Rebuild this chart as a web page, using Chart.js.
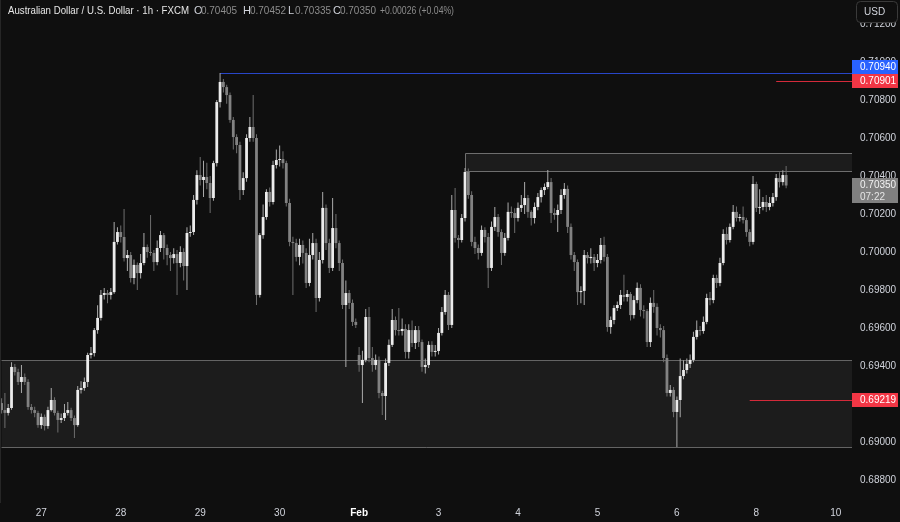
<!DOCTYPE html>
<html>
<head>
<meta charset="utf-8">
<title>Australian Dollar / U.S. Dollar - 1h - FXCM</title>
<script src="https://cdn.jsdelivr.net/npm/chart.js@4.4.1/dist/chart.umd.min.js"></script>
<style>
  html, body { margin: 0; padding: 0; background: #0f0f0f; }
  #wrap { width: 900px; height: 522px; }
</style>
</head>
<body>
<div id="wrap"><canvas id="chart" width="900" height="522"></canvas></div>
<script>
// hourly candles, index 0 = first bar on the left (Jan 26 afternoon)
const opens = [
  0.69205,0.69168,0.69153,0.69179,0.69395,0.69368,0.69316,0.69342,0.69316,0.69184,
  0.69168,0.69153,0.69089,0.69132,0.69084,0.69168,0.69221,0.69153,0.69116,0.69126,
  0.69153,0.69168,0.69126,0.69089,0.69274,0.69284,0.69316,0.69458,0.69468,0.69589,
  0.69653,0.69774,0.69784,0.69774,0.69789,0.70053,0.70105,0.70079,0.69968,0.69984,
  0.69863,0.69932,0.69889,0.69942,0.70026,0.70000,0.69995,0.69947,0.70021,0.70089,
  0.70021,0.69984,0.69968,0.69989,0.69942,0.70000,0.69926,0.70100,0.70105,0.70274,
  0.70405,0.70379,0.70395,0.70363,0.70284,0.70468,0.70789,0.70895,0.70868,0.70826,
  0.70695,0.70605,0.70563,0.70326,0.70389,0.70600,0.70658,0.70600,0.69774,0.70089,
  0.70184,0.70316,0.70263,0.70458,0.70484,0.70489,0.70468,0.70258,0.70053,0.70047,
  0.69974,0.70037,0.69995,0.69837,0.69984,0.70047,0.69758,0.69958,0.70232,0.70047,
  0.69916,0.70126,0.70047,0.69942,0.69721,0.69784,0.69732,0.69632,0.69458,0.69405,
  0.69432,0.69658,0.69442,0.69405,0.69432,0.69258,0.69242,0.69416,0.69511,0.69642,
  0.69589,0.69584,0.69595,0.69474,0.69589,0.69521,0.69589,0.69526,0.69395,0.69405,
  0.69511,0.69474,0.69479,0.69574,0.69684,0.69774,0.69616,0.70221,0.70074,0.70063,
  0.70179,0.70421,0.70300,0.70053,0.70021,0.69995,0.70116,0.70079,0.69916,0.70132,
  0.70184,0.70105,0.69995,0.70074,0.70211,0.70205,0.70179,0.70232,0.70247,0.70284,
  0.70211,0.70179,0.70237,0.70289,0.70326,0.70342,0.70368,0.70205,0.70195,0.70221,
  0.70300,0.70332,0.70132,0.69984,0.69947,0.69789,0.69795,0.69984,0.69968,0.69974,
  0.69942,0.69958,0.70037,0.69974,0.69605,0.69642,0.69705,0.69721,0.69774,0.69763,
  0.69779,0.69668,0.69747,0.69811,0.69695,0.69689,0.69526,0.69732,0.69711,0.69600,
  0.69589,0.69442,0.69258,0.69274,0.69158,0.69221,0.69347,0.69379,0.69411,0.69432,
  0.69553,0.69589,0.69584,0.69632,0.69758,0.69747,0.69863,0.69837,0.69942,0.70095,
  0.70063,0.70132,0.70211,0.70179,0.70184,0.70168,0.70105,0.70053,0.70358,0.70232,
  0.70237,0.70263,0.70237,0.70258,0.70289,0.70389,0.70368,0.70405
];
const highs = [
  0.69230,0.69258,0.69200,0.69420,0.69410,0.69385,0.69405,0.69360,0.69330,0.69200,
  0.69185,0.69165,0.69150,0.69145,0.69185,0.69284,0.69235,0.69165,0.69150,0.69200,
  0.69210,0.69180,0.69140,0.69295,0.69320,0.69340,0.69470,0.69500,0.69600,0.69720,
  0.69800,0.69810,0.69800,0.69810,0.70158,0.70130,0.70140,0.70226,0.70010,0.70000,
  0.69960,0.69945,0.69990,0.70100,0.70040,0.70195,0.70010,0.70060,0.70110,0.70100,
  0.70040,0.70000,0.70020,0.70010,0.70030,0.70020,0.70130,0.70140,0.70300,0.70430,
  0.70500,0.70480,0.70470,0.70400,0.70480,0.70800,0.70942,0.70910,0.70880,0.70840,
  0.70710,0.70620,0.70580,0.70420,0.70620,0.70710,0.70826,0.70620,0.70100,0.70250,
  0.70330,0.70340,0.70480,0.70540,0.70560,0.70530,0.70480,0.70280,0.70080,0.70070,
  0.70070,0.70060,0.70020,0.70070,0.70100,0.70070,0.70000,0.70316,0.70250,0.70070,
  0.70284,0.70200,0.70060,0.69960,0.69850,0.69800,0.69750,0.69650,0.69500,0.69480,
  0.69700,0.69710,0.69500,0.69460,0.69450,0.69270,0.69440,0.69540,0.69700,0.69660,
  0.69705,0.69650,0.69620,0.69620,0.69640,0.69610,0.69610,0.69540,0.69440,0.69530,
  0.69530,0.69510,0.69600,0.69710,0.69800,0.69790,0.70300,0.70337,0.70090,0.70200,
  0.70442,0.70440,0.70320,0.70080,0.70040,0.70140,0.70130,0.70100,0.70160,0.70237,
  0.70200,0.70120,0.70100,0.70260,0.70240,0.70230,0.70260,0.70300,0.70368,0.70300,
  0.70220,0.70260,0.70310,0.70340,0.70360,0.70432,0.70390,0.70230,0.70250,0.70330,
  0.70363,0.70350,0.70150,0.70000,0.69960,0.69820,0.70010,0.70000,0.70020,0.69990,
  0.69990,0.70074,0.70080,0.69990,0.69660,0.69720,0.69740,0.69800,0.69880,0.69800,
  0.69790,0.69770,0.69840,0.69830,0.69720,0.69700,0.69760,0.69800,0.69730,0.69620,
  0.69610,0.69460,0.69300,0.69290,0.69240,0.69440,0.69430,0.69440,0.69460,0.69580,
  0.69640,0.69610,0.69660,0.69780,0.69790,0.69880,0.69880,0.69970,0.70120,0.70130,
  0.70150,0.70247,0.70240,0.70200,0.70240,0.70180,0.70120,0.70400,0.70370,0.70330,
  0.70290,0.70300,0.70290,0.70310,0.70410,0.70420,0.70430,0.70452
];
const lows = [
  0.69150,0.69074,0.69140,0.69170,0.69350,0.69300,0.69258,0.69300,0.69170,0.69150,
  0.69130,0.69075,0.69070,0.69060,0.69070,0.69160,0.69140,0.69050,0.69100,0.69110,
  0.69140,0.69110,0.69021,0.69080,0.69255,0.69270,0.69290,0.69440,0.69450,0.69570,
  0.69640,0.69750,0.69730,0.69750,0.69780,0.70040,0.70050,0.69950,0.69900,0.69840,
  0.69830,0.69800,0.69860,0.69930,0.69970,0.69980,0.69900,0.69930,0.70000,0.69960,
  0.69930,0.69900,0.69940,0.69774,0.69920,0.69850,0.69800,0.70080,0.70090,0.70250,
  0.70350,0.70290,0.70330,0.70205,0.70270,0.70450,0.70760,0.70840,0.70780,0.70680,
  0.70540,0.70520,0.70274,0.70300,0.70370,0.70580,0.70580,0.69721,0.69760,0.70070,
  0.70170,0.70240,0.70250,0.70440,0.70450,0.70440,0.70240,0.70030,0.69774,0.69950,
  0.69930,0.69940,0.69810,0.69820,0.69960,0.69684,0.69740,0.69940,0.70010,0.69890,
  0.69900,0.70020,0.69900,0.69700,0.69395,0.69700,0.69610,0.69600,0.69370,0.69205,
  0.69420,0.69420,0.69370,0.69380,0.69230,0.69142,0.69116,0.69400,0.69500,0.69560,
  0.69560,0.69560,0.69440,0.69440,0.69500,0.69490,0.69500,0.69370,0.69360,0.69390,
  0.69450,0.69450,0.69460,0.69560,0.69670,0.69590,0.69600,0.70050,0.70020,0.70050,
  0.70160,0.70280,0.70030,0.69990,0.69960,0.69980,0.70050,0.69811,0.69900,0.70110,
  0.70080,0.69932,0.69980,0.70060,0.70180,0.70100,0.70160,0.70210,0.70200,0.70180,
  0.70140,0.70150,0.70220,0.70260,0.70300,0.70330,0.70153,0.70170,0.70105,0.70200,
  0.70280,0.70100,0.69960,0.69900,0.69721,0.69730,0.69721,0.69940,0.69940,0.69900,
  0.69920,0.69940,0.69950,0.69580,0.69570,0.69620,0.69690,0.69700,0.69740,0.69740,
  0.69640,0.69650,0.69730,0.69660,0.69650,0.69500,0.69500,0.69680,0.69560,0.69550,
  0.69420,0.69240,0.69240,0.69130,0.68974,0.69130,0.69330,0.69360,0.69390,0.69420,
  0.69540,0.69560,0.69570,0.69620,0.69720,0.69730,0.69810,0.69820,0.69930,0.70040,
  0.70050,0.70120,0.70160,0.70160,0.70150,0.70080,0.70030,0.70040,0.70210,0.70200,
  0.70220,0.70210,0.70220,0.70240,0.70270,0.70340,0.70350,0.70335
];
const closes = [
  0.69168,0.69153,0.69179,0.69395,0.69368,0.69316,0.69342,0.69316,0.69184,0.69168,
  0.69153,0.69089,0.69132,0.69084,0.69168,0.69221,0.69153,0.69116,0.69126,0.69153,
  0.69168,0.69126,0.69089,0.69274,0.69284,0.69316,0.69458,0.69468,0.69589,0.69653,
  0.69774,0.69784,0.69774,0.69789,0.70053,0.70105,0.70079,0.69968,0.69984,0.69863,
  0.69932,0.69889,0.69942,0.70026,0.70000,0.69995,0.69947,0.70021,0.70089,0.70021,
  0.69984,0.69968,0.69989,0.69942,0.70000,0.69926,0.70100,0.70105,0.70274,0.70405,
  0.70379,0.70395,0.70363,0.70284,0.70468,0.70789,0.70895,0.70868,0.70826,0.70695,
  0.70605,0.70563,0.70326,0.70389,0.70600,0.70658,0.70600,0.69774,0.70089,0.70184,
  0.70316,0.70263,0.70458,0.70484,0.70489,0.70468,0.70258,0.70053,0.70047,0.69974,
  0.70037,0.69995,0.69837,0.69984,0.70047,0.69758,0.69958,0.70232,0.70047,0.69916,
  0.70126,0.70047,0.69942,0.69721,0.69784,0.69732,0.69632,0.69616,0.69405,0.69432,
  0.69658,0.69442,0.69405,0.69432,0.69258,0.69242,0.69416,0.69511,0.69642,0.69589,
  0.69584,0.69595,0.69474,0.69589,0.69521,0.69589,0.69526,0.69395,0.69405,0.69511,
  0.69474,0.69479,0.69574,0.69684,0.69774,0.69616,0.70221,0.70074,0.70063,0.70179,
  0.70421,0.70300,0.70053,0.70021,0.69995,0.70116,0.70079,0.69916,0.70132,0.70184,
  0.70105,0.69995,0.70074,0.70211,0.70205,0.70179,0.70232,0.70247,0.70284,0.70211,
  0.70179,0.70237,0.70289,0.70326,0.70342,0.70368,0.70205,0.70195,0.70221,0.70300,
  0.70332,0.70132,0.69984,0.69947,0.69789,0.69795,0.69984,0.69968,0.69974,0.69942,
  0.69958,0.70037,0.69974,0.69605,0.69642,0.69705,0.69721,0.69774,0.69763,0.69779,
  0.69668,0.69747,0.69811,0.69695,0.69689,0.69526,0.69732,0.69711,0.69600,0.69589,
  0.69442,0.69258,0.69274,0.69158,0.69221,0.69347,0.69379,0.69411,0.69432,0.69553,
  0.69589,0.69584,0.69632,0.69758,0.69747,0.69863,0.69837,0.69942,0.70095,0.70063,
  0.70132,0.70211,0.70179,0.70184,0.70168,0.70105,0.70053,0.70358,0.70232,0.70237,
  0.70263,0.70237,0.70258,0.70289,0.70389,0.70368,0.70405,0.70350
];

// axis ticks
const dayTicks = [12, 36, 60, 84, 108, 132, 156, 180, 204, 228, 252];
const dayLabels = ['27', '28', '29', '30', 'Feb', '3', '4', '5', '6', '8', '10'];
const priceTicks = [0.688, 0.690, 0.692, 0.694, 0.696, 0.698, 0.700, 0.702, 0.704, 0.706, 0.708, 0.710, 0.712];

// drawn zones and levels (price, first candle index)
const supplyZone = [0.70521, 0.70426];
const supplyStart = 140;
const demandZone = [0.69432, 0.68974];
const demandStart = 0;
const highLevel = 0.70940, highStart = 66;
const redLevels = [0.70901, 0.69219];
const redStarts = [234, 226];
const lastPrice = 0.70350;
const countdown = '07:22';

const BG = '#0f0f0f';
const TEXT = '#d1d4dc';
const FONT = '"Liberation Sans", Arial, sans-serif';
const UP = '#ececec', DOWN = '#828282';
const UP_WICK = '#ababab', DOWN_WICK = '#6e6e6e';

const isUp = closes.map((c, i) => c >= opens[i]);

const bodies = closes.map((c, i) => ({ x: i, y: [opens[i], c] }));
const wicks = closes.map((c, i) => ({ x: i, y: [lows[i], highs[i]] }));

// little helper for the coloured price tags on the right axis
function priceTag(ctx, left, top, w, h, fill, lines) {
  ctx.fillStyle = fill;
  ctx.fillRect(left, top, w, h);
  ctx.textBaseline = 'middle';
  ctx.textAlign = 'left';
  ctx.font = '10px ' + FONT;
  lines.forEach((l, k) => {
    ctx.fillStyle = l.color || '#ffffff';
    ctx.fillText(l.text, left + 8, top + 7 + k * 12);
  });
}

const overlay = {
  id: 'overlay',
  beforeDraw(chart) {
    const { ctx } = chart;
    ctx.save();
    ctx.fillStyle = BG;
    ctx.fillRect(0, 0, chart.width, chart.height);
    ctx.restore();
  },
  beforeDatasetsDraw(chart) {
    const { ctx, chartArea, scales: { x, y } } = chart;
    const right = chartArea.right;
    ctx.save();

    // demand zone at the bottom
    let x0 = x.getPixelForValue(demandStart);
    let yTop = Math.round(y.getPixelForValue(demandZone[0])) + 0.5;
    let yBot = Math.round(y.getPixelForValue(demandZone[1])) + 0.5;
    ctx.fillStyle = '#1c1c1c';
    ctx.fillRect(x0, yTop, right - x0, yBot - yTop);
    ctx.strokeStyle = '#646464';
    ctx.lineWidth = 1;
    ctx.beginPath();
    ctx.moveTo(x0, yTop); ctx.lineTo(right, yTop);
    ctx.moveTo(x0, yBot); ctx.lineTo(right, yBot);
    ctx.stroke();

    // supply zone near the highs
    x0 = Math.round(x.getPixelForValue(supplyStart)) + 0.5;
    yTop = Math.round(y.getPixelForValue(supplyZone[0])) + 0.5;
    yBot = Math.round(y.getPixelForValue(supplyZone[1])) + 0.5;
    ctx.fillStyle = '#1c1c1c';
    ctx.fillRect(x0, yTop, right - x0, yBot - yTop);
    ctx.strokeStyle = '#6e6e6e';
    ctx.beginPath();
    ctx.moveTo(right, yTop); ctx.lineTo(x0, yTop); ctx.lineTo(x0, yBot); ctx.lineTo(right, yBot);
    ctx.stroke();

    // blue high line
    const yb = Math.round(y.getPixelForValue(highLevel)) + 0.5;
    ctx.strokeStyle = '#2846c8';
    ctx.beginPath();
    ctx.moveTo(x.getPixelForValue(highStart), yb); ctx.lineTo(right, yb);
    ctx.stroke();

    // red lines
    ctx.strokeStyle = '#d42a3a';
    redLevels.forEach((lv, k) => {
      const yr = Math.round(y.getPixelForValue(lv)) + 0.5;
      ctx.beginPath();
      ctx.moveTo(x.getPixelForValue(redStarts[k]), yr); ctx.lineTo(right, yr);
      ctx.stroke();
    });
    ctx.restore();
  },
  afterDraw(chart) {
    const { ctx, chartArea, scales: { y } } = chart;
    const left = chartArea.right;
    const w = chart.width - left - 2;
    ctx.save();

    // tags on the price axis; blue one pushed up so it doesn't cover the red one
    const yRed1 = y.getPixelForValue(redLevels[0]);
    const redTop = Math.round(yRed1 - 7);
    priceTag(ctx, left, redTop, w, 14, '#f23645', [{ text: redLevels[0].toFixed(5) }]);
    priceTag(ctx, left, redTop - 14, w, 14, '#2962ff', [{ text: highLevel.toFixed(5) }]);
    const yRed2 = y.getPixelForValue(redLevels[1]);
    priceTag(ctx, left, Math.round(yRed2 - 7), w, 14, '#f23645', [{ text: redLevels[1].toFixed(5) }]);
    const yLast = y.getPixelForValue(lastPrice);
    priceTag(ctx, left, Math.round(yLast - 7), w, 25, '#808080',
      [{ text: lastPrice.toFixed(5), color: '#f2f2f2' }, { text: countdown, color: '#e4e4e4' }]);

    // USD box top right
    ctx.fillStyle = BG;
    ctx.strokeStyle = '#3a3a3a';
    ctx.beginPath();
    if (ctx.roundRect) ctx.roundRect(856.5, 1.5, 41, 21, 4); else ctx.rect(856.5, 1.5, 41, 21);
    ctx.fill();
    ctx.stroke();
    ctx.fillStyle = TEXT;
    ctx.font = '10px ' + FONT;
    ctx.textAlign = 'left';
    ctx.textBaseline = 'middle';
    ctx.fillText('USD', 864, 12);

    // legend / title line
    ctx.font = '11px ' + FONT;
    ctx.fillStyle = '#e6e6e6';
    ctx.fillText('Australian Dollar / U.S. Dollar \u00b7 1h \u00b7 FXCM', 8, 11, 181);
    const parts = [
      ['O', opens[opens.length - 1], 194],
      ['H', highs[highs.length - 1], 243],
      ['L', lows[lows.length - 1], 288],
      ['C', closes[closes.length - 1], 333]
    ];
    parts.forEach(([k, v, px]) => {
      ctx.fillStyle = TEXT;
      ctx.fillText(k, px, 11);
      ctx.fillStyle = '#8c8c8c';
      ctx.fillText(v.toFixed(5), px + 7, 11, 36);
    });
    ctx.fillStyle = '#8c8c8c';
    ctx.fillText('+0.00026 (+0.04%)', 380, 11, 74);

    // thin frame on the left edge
    ctx.strokeStyle = '#262626';
    ctx.beginPath();
    ctx.moveTo(0.5, 0); ctx.lineTo(0.5, chartArea.bottom);
    ctx.stroke();
    ctx.restore();
  }
};

const chart = new Chart(document.getElementById('chart'), {
  type: 'bar',
  data: {
    datasets: [
      {
        label: 'Bodies',
        data: bodies,
        backgroundColor: isUp.map(u => (u ? UP : DOWN)),
        barThickness: 2.8,
        minBarLength: 1,
        grouped: false,
        borderWidth: 0,
        inflateAmount: 0,
      },
      {
        label: 'Wicks',
        data: wicks,
        backgroundColor: isUp.map(u => (u ? UP_WICK : DOWN_WICK)),
        barThickness: 1,
        grouped: false,
        borderWidth: 0,
        inflateAmount: 0,
      },
    ],
  },
  options: {
    responsive: false,
    animation: false,
    events: [],
    layout: { padding: 0 },
    plugins: {
      legend: { display: false },
      tooltip: { enabled: false },
    },
    scales: {
      x: {
        type: 'linear',
        min: -0.48,
        max: 256.9,
        offset: false,
        grid: { display: false, drawTicks: false },
        border: { display: false },
        afterBuildTicks: (s) => { s.ticks = dayTicks.map(v => ({ value: v })); },
        afterFit: (s) => { s.height = 19; s.paddingLeft = 0; s.paddingRight = 0; },
        ticks: {
          autoSkip: false,
          maxRotation: 0,
          padding: 4,
          callback: (v, i) => dayLabels[i],
          color: (c) => (dayLabels[c.index] === 'Feb' ? '#ffffff' : TEXT),
          font: (c) => ({ family: FONT, size: 10, weight: dayLabels[c.index] === 'Feb' ? 'bold' : 'normal' }),
        },
      },
      y: {
        position: 'right',
        min: 0.686789,
        max: 0.713263,
        grid: { display: false, drawTicks: false },
        border: { display: false },
        afterBuildTicks: (s) => { s.ticks = priceTicks.map(v => ({ value: v })); },
        afterFit: (s) => { s.width = 48; s.paddingTop = 0; s.paddingBottom = 0; },
        ticks: {
          padding: 8,
          autoSkip: false,
          callback: (v) => v.toFixed(5),
          color: TEXT,
          font: { family: FONT, size: 10 },
        },
      },
    },
  },
  plugins: [overlay],
});
</script>
</body>
</html>
